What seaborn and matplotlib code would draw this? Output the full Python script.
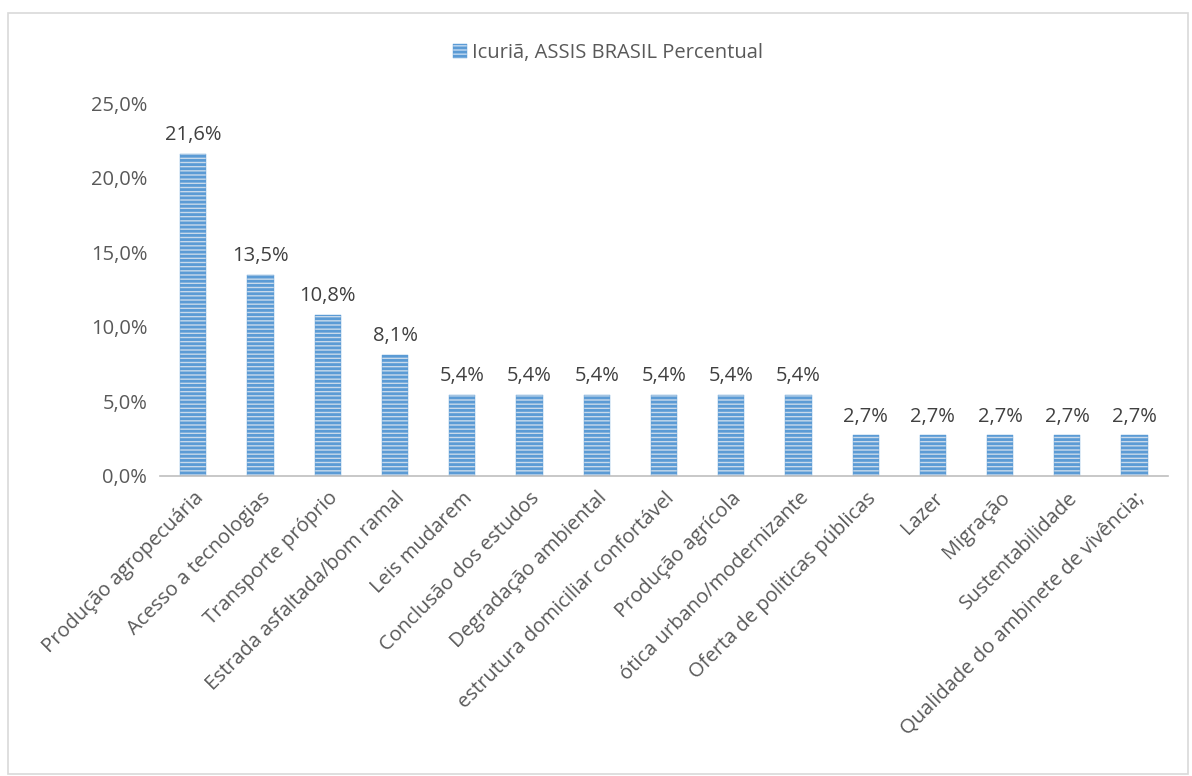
import matplotlib
matplotlib.use("Agg")
import matplotlib.pyplot as plt
import seaborn as sns
import pandas as pd
from matplotlib.patches import Patch, Rectangle

# --- Dados ---
categorias = [
    "Produção agropecuária", "Acesso a tecnologias", "Transporte próprio",
    "Estrada asfaltada/bom ramal", "Leis mudarem", "Conclusão dos estudos",
    "Degradação ambiental", "estrutura domiciliar confortável", "Produção agrícola",
    "ótica urbano/modernizante", "Oferta de politicas públicas", "Lazer",
    "Migração", "Sustentabilidade", "Qualidade do ambinete de vivência;",
]
percentual = [21.6, 13.5, 10.8, 8.1, 5.4, 5.4, 5.4, 5.4, 5.4, 5.4, 2.7, 2.7, 2.7, 2.7, 2.7]
yticks = [0, 5, 10, 15, 20, 25]
serie = "Icuriã, ASSIS BRASIL Percentual"

df = pd.DataFrame({"Categoria": categorias, "Percentual": percentual})

sns.set_style("white")
plt.rcParams["font.family"] = ["Open Sans", "DejaVu Sans"]
plt.rcParams["hatch.linewidth"] = 2.0

texto = "#595959"
azul_claro = "#c3daf1"
azul = "#5b9bd5"
fs = 14.5
fig = plt.figure(figsize=(11.92, 7.76), dpi=100)
ax = fig.add_axes([0.134, 0.387, 0.846, 0.48])

sns.barplot(data=df, x="Categoria", y="Percentual", ax=ax, color=azul_claro,
            width=0.39, edgecolor=azul, linewidth=0.3)
for p in ax.patches:
    p.set_hatch("----")

for i, v in enumerate(percentual):
    ax.text(i, v + 0.6, f"{v:.1f}%".replace(".", ","), ha="center", va="bottom",
            fontsize=fs, color="#404040")

ax.set_ylim(0, 25)
ax.set_xlim(-0.5, len(categorias) - 0.5)
ax.set_yticks(yticks)
ax.set_yticklabels([f"{t:.1f}%".replace(".", ",") for t in yticks], fontsize=fs, color=texto)
ax.set_xticks(range(len(categorias)))
ax.set_xticklabels(categorias, rotation=45, ha="right", rotation_mode="anchor",
                   fontsize=fs, color=texto)
ax.tick_params(axis="both", length=0, pad=9)
ax.set_xlabel("")
ax.set_ylabel("")
for s in ["top", "right", "left"]:
    ax.spines[s].set_visible(False)
ax.spines["bottom"].set_color("#bfbfbf")
ax.spines["bottom"].set_linewidth(1.2)

leg = fig.legend(handles=[Patch(facecolor=azul_claro, hatch="----", edgecolor=azul,
                                linewidth=0.3, label=serie)],
                 loc="center", bbox_to_anchor=(0.51, 0.932), frameon=False,
                 fontsize=fs, handlelength=0.7, handleheight=0.7, handletextpad=0.25)
for t in leg.get_texts():
    t.set_color(texto)

# moldura externa
fig.patches.append(Rectangle((0.007, 0.003), 0.99, 0.98, transform=fig.transFigure,
                             fill=False, edgecolor="#d9d9d9", linewidth=1.2))

fig.savefig("out.png", dpi=100)
